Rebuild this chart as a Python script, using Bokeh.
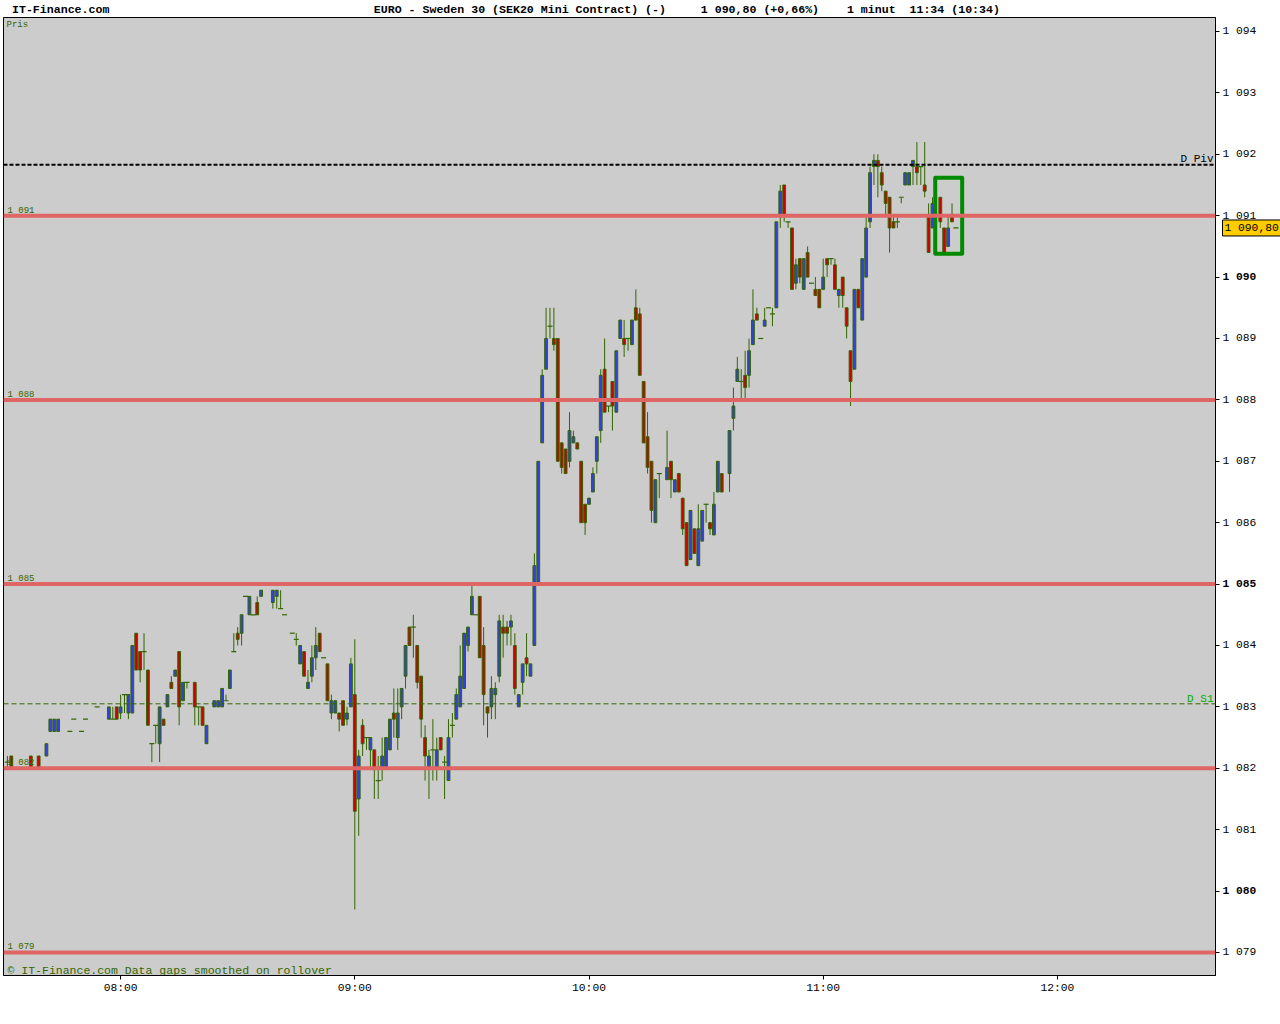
import math
from bokeh.plotting import figure
from bokeh.models import Span, Label, FixedTicker, Range1d, ColumnDataSource, GridBox
from bokeh.embed import file_html
from bokeh.resources import INLINE
from bokeh.core.properties import value

# ---------------- data ----------------
session_start = "07:30"
bar_minute = [
    1, 2, 7, 9, 11, 12, 13, 14, 17, 18,
    20, 21, 24, 27, 28, 29, 30, 31, 32, 33,
    34, 35, 36, 37, 38, 39, 40, 41, 42, 43,
    44, 45, 46, 47, 49, 50, 51, 52, 54, 55,
    56, 57, 58, 59, 60, 61, 62, 63, 64, 65,
    66, 69, 70, 71, 72, 74, 75, 76, 77, 78,
    79, 80, 81, 82, 83, 84, 85, 86, 87, 88,
    89, 90, 91, 92, 93, 94, 95, 96, 97, 98,
    99, 100, 101, 102, 103, 104, 105, 106, 107, 108,
    109, 110, 111, 112, 113, 114, 115, 116, 117, 118,
    119, 120, 121, 122, 123, 124, 125, 126, 127, 128,
    129, 130, 131, 132, 133, 134, 135, 136, 137, 138,
    139, 140, 141, 142, 143, 144, 145, 146, 147, 148,
    149, 150, 151, 152, 153, 154, 155, 156, 157, 158,
    159, 160, 161, 162, 163, 164, 165, 166, 167, 168,
    170, 171, 172, 173, 174, 175, 176, 177, 178, 179,
    180, 181, 182, 183, 184, 186, 187, 188, 189, 190,
    191, 192, 193, 194, 195, 196, 197, 198, 199, 200,
    201, 202, 203, 204, 205, 206, 207, 208, 209, 210,
    211, 212, 213, 214, 215, 216, 217, 218, 219, 220,
    221, 222, 223, 224, 225, 226, 227, 228, 229, 230,
    231, 232, 233, 234, 235, 236, 237, 238, 240, 241, 242, 243, 244,
]
bar_open = [
    1082.1, 1082.2, 1082.2, 1082.2, 1082.2, 1082.6, 1082.6, 1082.6, 1082.6, 1082.8,
    1082.6, 1082.8, 1083.0, 1082.8, 1082.8, 1083.0, 1082.9, 1083.2, 1082.9, 1082.9,
    1084.2, 1083.9, 1083.9, 1083.6, 1082.4, 1082.7, 1082.4, 1082.8, 1083.0, 1083.4,
    1083.5, 1083.9, 1083.1, 1083.4, 1083.4, 1083.0, 1083.0, 1082.4, 1083.0, 1083.0,
    1083.0, 1083.1, 1083.3, 1083.9, 1084.2, 1084.2, 1084.8, 1084.5, 1084.5, 1084.7,
    1084.8, 1084.7, 1084.8, 1084.6, 1084.5, 1084.2, 1084.1, 1083.7, 1083.9, 1083.3,
    1083.5, 1083.8, 1084.2, 1083.8, 1083.7, 1082.9, 1082.9, 1082.9, 1083.1, 1082.8,
    1083.0, 1083.2, 1081.5, 1082.7, 1082.5, 1082.3, 1082.3, 1081.8, 1082.0, 1082.0,
    1082.3, 1082.9, 1082.5, 1083.0, 1083.5, 1084.3, 1084.3, 1084.0, 1083.5, 1082.5,
    1082.0, 1082.3, 1082.0, 1082.5, 1082.1, 1081.8, 1082.7, 1082.8, 1083.0, 1083.3,
    1084.0, 1084.5, 1084.5, 1084.8, 1084.0, 1083.0, 1083.0, 1083.2, 1083.5, 1084.3,
    1084.3, 1084.3, 1084.0, 1083.0, 1083.4, 1083.8, 1083.5, 1084.0, 1085.0, 1087.3,
    1088.5, 1089.2, 1089.0, 1089.0, 1087.3, 1087.2, 1087.0, 1087.3, 1087.3, 1087.0,
    1086.3, 1086.3, 1086.5, 1087.0, 1087.5, 1088.5, 1087.9, 1088.3, 1087.8, 1089.0,
    1089.0, 1089.0, 1088.9, 1089.5, 1089.4, 1088.3, 1087.4, 1087.0, 1086.0, 1086.8,
    1086.7, 1087.0, 1086.5, 1086.8, 1086.4, 1086.0, 1085.4, 1085.9, 1085.3, 1085.7,
    1086.3, 1086.0, 1085.8, 1086.5, 1086.8, 1086.8, 1087.7, 1088.3, 1088.3, 1088.4,
    1088.4, 1088.9, 1089.4, 1089.0, 1089.2, 1089.5, 1089.4, 1089.5, 1091.0, 1091.5,
    1090.9, 1090.8, 1089.9, 1090.3, 1089.8, 1090.4, 1089.9, 1089.8, 1089.8, 1089.8,
    1090.3, 1090.3, 1090.2, 1089.7, 1090.0, 1089.5, 1088.8, 1088.5, 1089.8, 1089.3,
    1090.0, 1090.9, 1091.8, 1091.9, 1091.7, 1091.4, 1091.3, 1090.9, 1090.9, 1091.3,
    1091.5, 1091.5, 1091.8, 1091.8, 1091.8, 1091.5, 1091.0, 1090.8, 1091.3, 1090.8, 1090.5, 1091.0, 1090.8,
]
bar_high = [
    1082.2, 1082.2, 1082.2, 1082.2, 1082.4, 1082.8, 1082.8, 1082.8, 1082.6, 1082.8,
    1082.6, 1082.8, 1083.0, 1083.0, 1083.0, 1083.0, 1083.2, 1083.2, 1083.2, 1084.0,
    1084.2, 1083.9, 1084.2, 1083.6, 1082.4, 1082.7, 1083.0, 1082.8, 1083.2, 1083.5,
    1083.6, 1083.9, 1083.4, 1083.4, 1083.4, 1083.0, 1083.0, 1082.7, 1083.1, 1083.1,
    1083.3, 1083.2, 1083.6, 1084.2, 1084.3, 1084.5, 1084.8, 1084.8, 1084.5, 1084.8,
    1084.9, 1084.9, 1084.9, 1084.9, 1084.5, 1084.2, 1084.2, 1084.0, 1083.9, 1083.6,
    1084.0, 1084.3, 1084.2, 1083.8, 1083.7, 1083.2, 1083.1, 1082.9, 1083.1, 1083.0,
    1083.8, 1084.1, 1082.3, 1082.8, 1082.5, 1082.5, 1082.3, 1082.2, 1082.5, 1082.5,
    1082.8, 1083.3, 1083.3, 1083.3, 1084.0, 1084.3, 1084.5, 1084.0, 1083.5, 1082.7,
    1082.3, 1082.8, 1082.5, 1082.5, 1082.2, 1082.8, 1082.9, 1083.3, 1084.0, 1084.2,
    1084.3, 1085.0, 1084.5, 1084.8, 1084.3, 1083.0, 1083.5, 1083.4, 1084.5, 1084.5,
    1084.4, 1084.5, 1084.2, 1083.2, 1083.7, 1084.2, 1083.7, 1085.5, 1087.0, 1088.5,
    1089.5, 1089.5, 1089.5, 1089.0, 1087.3, 1087.2, 1087.8, 1087.5, 1087.3, 1087.0,
    1086.3, 1086.4, 1086.9, 1087.4, 1088.5, 1089.0, 1087.9, 1088.3, 1088.8, 1089.3,
    1089.3, 1089.0, 1089.3, 1089.8, 1089.5, 1088.3, 1087.8, 1087.0, 1086.7, 1086.8,
    1087.5, 1087.0, 1086.7, 1086.8, 1086.4, 1086.0, 1086.2, 1085.9, 1086.3, 1086.2,
    1086.3, 1086.0, 1086.5, 1087.0, 1086.8, 1087.5, 1088.2, 1088.7, 1088.5, 1088.8,
    1089.0, 1089.8, 1089.5, 1089.0, 1089.5, 1089.5, 1089.5, 1090.9, 1091.5, 1091.5,
    1090.9, 1090.8, 1090.3, 1090.3, 1090.3, 1090.5, 1089.9, 1090.0, 1089.8, 1090.3,
    1090.3, 1090.3, 1090.3, 1089.8, 1090.0, 1089.5, 1088.8, 1089.8, 1089.8, 1090.3,
    1091.0, 1091.8, 1092.0, 1092.0, 1091.8, 1091.4, 1091.3, 1091.0, 1091.0, 1091.3,
    1091.7, 1091.7, 1091.9, 1092.2, 1091.8, 1092.2, 1091.2, 1091.3, 1091.3, 1090.8, 1091.0, 1091.2, 1090.8,
]
bar_low = [
    1082.0, 1082.0, 1082.0, 1082.0, 1082.2, 1082.6, 1082.6, 1082.6, 1082.6, 1082.8,
    1082.6, 1082.8, 1083.0, 1082.8, 1082.8, 1082.8, 1082.8, 1082.9, 1082.8, 1082.9,
    1083.6, 1083.4, 1083.6, 1082.7, 1082.1, 1082.4, 1082.1, 1082.7, 1083.0, 1083.3,
    1083.5, 1082.7, 1083.1, 1083.3, 1082.7, 1082.7, 1082.7, 1082.4, 1083.0, 1083.0,
    1083.0, 1083.1, 1083.3, 1083.9, 1084.0, 1084.0, 1084.8, 1084.5, 1084.5, 1084.5,
    1084.8, 1084.6, 1084.6, 1084.6, 1084.5, 1084.2, 1084.0, 1083.7, 1083.5, 1083.3,
    1083.4, 1083.6, 1083.9, 1083.8, 1083.1, 1082.8, 1082.9, 1082.6, 1082.7, 1082.7,
    1083.0, 1079.7, 1080.9, 1082.2, 1082.3, 1082.0, 1081.5, 1081.5, 1081.8, 1082.0,
    1082.3, 1082.5, 1082.3, 1082.8, 1083.3, 1084.0, 1083.8, 1083.3, 1082.5, 1081.8,
    1081.5, 1081.8, 1081.8, 1082.3, 1081.5, 1081.8, 1082.5, 1082.8, 1083.0, 1083.3,
    1083.9, 1084.5, 1084.5, 1083.8, 1082.7, 1082.5, 1082.8, 1082.8, 1083.4, 1083.8,
    1084.0, 1084.0, 1083.2, 1083.0, 1083.2, 1083.5, 1083.5, 1084.0, 1085.0, 1087.3,
    1088.5, 1089.0, 1088.8, 1087.0, 1086.8, 1086.8, 1086.9, 1087.3, 1087.2, 1086.0,
    1085.8, 1086.3, 1086.5, 1086.8, 1087.3, 1087.8, 1087.8, 1087.5, 1087.8, 1089.0,
    1088.7, 1088.8, 1088.9, 1089.3, 1088.4, 1087.3, 1086.8, 1086.0, 1086.0, 1086.4,
    1086.7, 1086.4, 1086.5, 1086.5, 1085.8, 1085.3, 1085.4, 1085.5, 1085.3, 1085.7,
    1086.0, 1085.8, 1085.8, 1086.5, 1086.5, 1086.5, 1087.5, 1088.3, 1088.0, 1088.0,
    1088.2, 1088.9, 1089.3, 1089.0, 1089.2, 1089.5, 1089.2, 1089.5, 1090.8, 1090.9,
    1090.8, 1089.8, 1089.8, 1089.9, 1089.8, 1090.0, 1089.9, 1089.7, 1089.5, 1089.8,
    1090.0, 1090.2, 1089.8, 1089.5, 1089.5, 1089.0, 1087.9, 1088.5, 1089.5, 1089.3,
    1090.0, 1090.8, 1091.5, 1091.3, 1091.4, 1091.0, 1090.4, 1090.8, 1090.8, 1091.2,
    1091.5, 1091.5, 1091.5, 1091.5, 1091.5, 1091.3, 1090.4, 1090.8, 1090.8, 1090.4, 1090.5, 1090.9, 1090.8,
]
bar_close = [
    1082.1, 1082.0, 1082.0, 1082.0, 1082.4, 1082.8, 1082.8, 1082.8, 1082.6, 1082.8,
    1082.6, 1082.8, 1083.0, 1083.0, 1082.8, 1082.8, 1083.0, 1083.2, 1083.2, 1084.0,
    1083.6, 1083.6, 1083.9, 1082.7, 1082.4, 1082.7, 1083.0, 1082.7, 1083.2, 1083.3,
    1083.6, 1083.0, 1083.4, 1083.4, 1083.0, 1083.0, 1082.7, 1082.7, 1083.1, 1083.1,
    1083.3, 1083.1, 1083.6, 1083.9, 1084.1, 1084.5, 1084.8, 1084.8, 1084.5, 1084.5,
    1084.9, 1084.9, 1084.9, 1084.6, 1084.5, 1084.2, 1084.1, 1084.0, 1083.5, 1083.4,
    1083.8, 1084.0, 1083.9, 1083.8, 1083.1, 1083.1, 1083.1, 1082.8, 1082.7, 1082.9,
    1083.7, 1081.3, 1082.2, 1082.4, 1082.5, 1082.5, 1082.0, 1081.8, 1082.2, 1082.5,
    1082.8, 1082.8, 1082.9, 1083.3, 1084.0, 1084.0, 1084.3, 1083.4, 1082.8, 1082.2,
    1082.2, 1082.3, 1082.3, 1082.3, 1082.1, 1082.5, 1082.7, 1083.2, 1083.5, 1084.2,
    1084.3, 1084.8, 1084.5, 1083.8, 1083.2, 1082.9, 1083.3, 1083.3, 1084.4, 1084.2,
    1084.2, 1084.4, 1083.3, 1083.2, 1083.7, 1083.7, 1083.7, 1085.3, 1087.0, 1088.4,
    1089.0, 1089.2, 1088.9, 1087.0, 1086.9, 1086.8, 1087.5, 1087.4, 1087.2, 1086.0,
    1086.0, 1086.4, 1086.8, 1087.4, 1088.4, 1087.8, 1087.9, 1087.9, 1088.8, 1089.3,
    1088.9, 1089.0, 1089.3, 1089.3, 1088.4, 1087.3, 1086.9, 1086.2, 1086.7, 1086.8,
    1086.9, 1086.7, 1086.7, 1086.5, 1085.9, 1085.3, 1086.2, 1085.5, 1085.9, 1086.2,
    1086.3, 1085.9, 1086.3, 1087.0, 1086.5, 1087.5, 1087.9, 1088.5, 1088.3, 1088.2,
    1088.8, 1089.3, 1089.3, 1089.0, 1089.3, 1089.5, 1089.4, 1090.9, 1091.4, 1091.0,
    1090.9, 1089.8, 1090.2, 1090.0, 1090.3, 1090.0, 1089.9, 1089.7, 1089.5, 1090.0,
    1090.2, 1090.3, 1089.8, 1089.8, 1089.7, 1089.2, 1088.3, 1089.8, 1089.5, 1090.3,
    1090.8, 1091.7, 1091.9, 1091.8, 1091.5, 1091.2, 1090.8, 1090.8, 1090.9, 1091.3,
    1091.7, 1091.7, 1091.9, 1091.7, 1091.8, 1091.4, 1090.4, 1091.2, 1090.9, 1090.4, 1090.8, 1090.9, 1090.8,
]

level_values = [1079, 1082, 1085, 1088, 1091]
level_labels = ["1 079", "1 082", "1 085", "1 088", "1 091"]
pivot_value = 1091.83
pivot_label = "D Piv"
s1_value = 1083.05
s1_label = "D S1"

price_ticks = [1079, 1080, 1081, 1082, 1083, 1084, 1085, 1086, 1087, 1088,
               1089, 1090, 1091, 1092, 1093, 1094]
price_tick_labels = ["1 079", "1 080", "1 081", "1 082", "1 083", "1 084", "1 085", "1 086",
                     "1 087", "1 088", "1 089", "1 090", "1 091", "1 092", "1 093", "1 094"]
bold_price_ticks = [1080, 1085, 1090]
time_tick_labels = ["08:00", "09:00", "10:00", "11:00", "12:00"]

pattern_minutes = [238.7, 245.6]
pattern_prices = [1090.38, 1091.62]

site_name = "IT-Finance.com"
instrument = "EURO - Sweden 30 (SEK20 Mini Contract) (-)"
change_pct = "(+0,66%)"
interval = "1 minut"
gmt_time = "(10:34)"
panel_name = "Pris"
footer = "\u00a9 IT-Finance.com Data gaps smoothed on rollover"

assert len(bar_minute) == len(bar_open) == len(bar_high) == len(bar_low) == len(bar_close)

# ---------------- helpers ----------------
def hhmm_to_min(s):
    h, m = s.split(":")
    return int(h) * 60 + int(m)

def min_to_hhmm(v):
    return f"{int(v) // 60:02d}:{int(v) % 60:02d}"

def fmt_price(v, dec=0):
    whole = int(math.floor(v + 1e-9))
    s = f"{whole // 1000} {whole % 1000:03d}"
    if dec:
        s += "," + f"{v - whole:.{dec}f}"[2:]
    return s

start = hhmm_to_min(session_start)
t = [start + m for m in bar_minute]

X0, X1 = 450.0, 760.5
Y0, Y1 = 1078.625, 1094.228
FL, FR, FT, FB = 3, 1215, 17, 975
W, H = 1280, 1000

def px_x(px):
    return X0 + (px - FL) * (X1 - X0) / (FR - FL)

def px_y(py):
    return Y1 - (py - FT) * (Y1 - Y0) / (FB - FT)

dpx = (Y1 - Y0) / (FB - FT)

GREEN = "#336600"
RED = "#cc0000"
BLUE = "#3340dd"
LEVEL_RED = "#e06666"
MONO = "Liberation Mono"

xr = Range1d(X0, X1)
yr = Range1d(Y0, Y1)

# ---------------- main chart ----------------
p = figure(width=W, height=H, output_backend="svg", toolbar_location=None,
           x_range=xr, y_range=yr, y_axis_location="right",
           min_border_left=FL, min_border_right=W - FR,
           min_border_top=FT, min_border_bottom=H - FB)
p.background_fill_color = "#cccccc"
p.border_fill_color = "white"
p.outline_line_color = "black"
p.outline_line_width = 1
p.grid.visible = False

xa = p.xaxis[0]
xa.ticker = FixedTicker(ticks=[hhmm_to_min(s) for s in time_tick_labels])
xa.major_label_overrides = {hhmm_to_min(s): s for s in time_tick_labels}
ya = p.yaxis[0]
ya.ticker = FixedTicker(ticks=price_ticks)
ya.major_label_overrides = {v: ("" if v in bold_price_ticks else lab)
                            for v, lab in zip(price_ticks, price_tick_labels)}
for ax in (xa, ya):
    ax.axis_line_color = "black"
    ax.major_tick_line_color = "black"
    ax.major_tick_in = 0
    ax.major_tick_out = 4
    ax.minor_tick_line_color = None
    ax.major_label_text_font = MONO
    ax.major_label_text_font_size = "11.3px"
    ax.major_label_text_color = "black"
xa.major_label_standoff = 2
ya.major_label_standoff = 3

# candles
src = ColumnDataSource(dict(t=t, o=bar_open, h=bar_high, l=bar_low, c=bar_close))
p.segment(x0="t", y0="h", x1="t", y1="l", source=src, line_color=GREEN, line_width=1)

bt, btop, bbot, bcol, dt, dy = [], [], [], [], [], []
for ti, o, c in zip(t, bar_open, bar_close):
    if abs(c - o) < 1e-9:
        dt.append(ti)
        dy.append(o)
    else:
        bt.append(ti)
        btop.append(max(o, c))
        bbot.append(min(o, c))
        bcol.append(BLUE if c > o else RED)
p.vbar(x=bt, top=btop, bottom=bbot, width=0.72, fill_color=bcol,
       line_color=GREEN, line_width=1)
p.scatter(x=dt, y=dy, marker="dash", size=5, line_color=GREEN, line_width=1.2)

# level lines
for lv in level_values:
    p.add_layout(Span(location=lv, dimension="width", line_color=LEVEL_RED, line_width=4))
p.add_layout(Span(location=pivot_value, dimension="width", line_color="black",
                  line_width=2, line_dash="4 2"))
p.add_layout(Span(location=s1_value, dimension="width", line_color=GREEN,
                  line_width=1, line_dash="5 3"))

p.text(x=[px_x(7)] * len(level_values), y=[v + 5 * dpx for v in level_values],
       text=level_labels, text_font=value(MONO), text_font_size="9px",
       text_color=GREEN, text_baseline="alphabetic", text_align="left")
p.text(x=[px_x(1213)], y=[pivot_value + 6 * dpx], text=[pivot_label],
       text_font=value(MONO), text_font_size="11px", text_color="black",
       text_baseline="alphabetic", text_align="right")
p.text(x=[px_x(1213)], y=[s1_value + 5 * dpx], text=[s1_label],
       text_font=value(MONO), text_font_size="11px", text_color="#00aa00",
       text_baseline="alphabetic", text_align="right")
p.text(x=[px_x(6)], y=[px_y(24)], text=[panel_name], text_font=value(MONO),
       text_font_size="9px", text_color=GREEN, text_baseline="alphabetic", text_align="left")
p.text(x=[px_x(7)], y=[px_y(970)], text=[footer], text_font=value(MONO),
       text_font_size="11.5px", text_color=GREEN, text_baseline="alphabetic", text_align="left")

# pattern box
p.quad(left=[start + pattern_minutes[0]], right=[start + pattern_minutes[1]],
       bottom=[pattern_prices[0]], top=[pattern_prices[1]],
       fill_alpha=0, line_color="#008a00", line_width=4, line_join="round")

# header line (one label in the top border)
last_close = bar_close[-1]
last_time = min_to_hhmm(t[-1])
NB = "\u00a0"
header = (site_name + NB * 38 + instrument + NB * 5 +
          f"{fmt_price(last_close, 2)} {change_pct}" + NB * 4 + interval + NB * 2 +
          f"{last_time} {gmt_time}")
p.add_layout(Label(x=px_x(11.5), y=px_y(9), text=header, text_font=MONO,
                   text_font_size="11.6px", text_font_style="bold", text_color="black",
                   text_baseline="alphabetic", text_align="left"), "above")

# ---------------- transparent overlay sharing the same frame ----------------
ov = figure(width=W, height=H, output_backend="svg", toolbar_location=None,
            x_range=xr, y_range=yr, x_axis_location=None, y_axis_location="right",
            min_border_left=FL, min_border_right=W - FR,
            min_border_top=FT, min_border_bottom=H - FB)
ov.background_fill_color = None
ov.border_fill_color = None
ov.outline_line_color = None
ov.grid.visible = False

oya = ov.yaxis[0]
oya.ticker = FixedTicker(ticks=bold_price_ticks)
oya.major_label_overrides = {v: lab for v, lab in zip(price_ticks, price_tick_labels)
                             if v in bold_price_ticks}
oya.axis_line_color = None
oya.major_tick_line_color = None
oya.major_tick_in = 0
oya.major_tick_out = 4
oya.minor_tick_line_color = None
oya.major_label_standoff = 3
oya.major_label_text_font = MONO
oya.major_label_text_font_size = "11.3px"
oya.major_label_text_font_style = "bold"
oya.major_label_text_color = "black"

# current price box (drawn at its data position, held in the bottom border)
ov.add_layout(Label(x=X1, y=last_close, x_offset=7, text=fmt_price(last_close, 2),
                    text_font=MONO, text_font_size="11.3px", text_color="black",
                    text_baseline="middle", text_align="left",
                    background_fill_color="#ffcc00", border_line_color="black",
                    border_line_width=1, padding=2), "below")

layout = GridBox(children=[(p, 0, 0), (ov, 0, 0)])
open("out.html", "w").write(file_html(layout, INLINE))
